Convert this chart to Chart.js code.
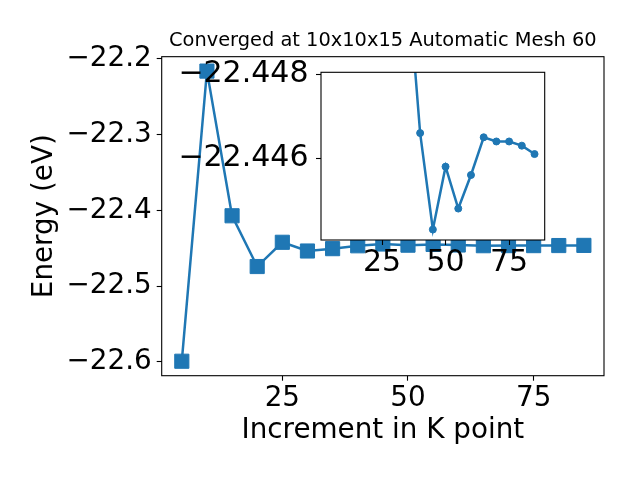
<!DOCTYPE html>
<html>
<head>
<meta charset="utf-8">
<script src="https://cdn.jsdelivr.net/npm/chart.js@4"></script>
<style>
  html, body { margin: 0; padding: 0; background: #fff; }
  #wrap { position: relative; width: 640px; height: 480px; }
  canvas { position: absolute; left: 0; top: 0; }
</style>
</head>
<body>
<div id="wrap">
  <canvas id="main" width="640" height="480"></canvas>
  <canvas id="inset" width="640" height="480"></canvas>
</div>
<script>
// k-point increments and converged energies (eV)
var kPoints = [5, 10, 15, 20, 25, 30, 35, 40, 45, 50, 55, 60, 65, 70, 75, 80, 85];
var energies = [-22.599, -22.216, -22.407, -22.474, -22.442, -22.4535, -22.4504, -22.4466,
                -22.4443, -22.4458, -22.4448, -22.4456, -22.4465, -22.4464, -22.4464, -22.4463, -22.4461];
var insetFrom = 35;   // the zoomed inset only plots from this k point on

var mainXTicks = [25, 50, 75];
var mainYTicks = [-22.6, -22.5, -22.4, -22.3, -22.2];
var insetXTicks = [25, 50, 75];
var insetYTicks = [-22.448, -22.446];

var blue = "#1f77b4";
Chart.defaults.font.family = "'DejaVu Sans'";
Chart.defaults.color = "#000";

function minus(s) {
    return s.replace("-", "\u2212");
}

var points = kPoints.map(function (k, i) { return { x: k, y: energies[i] }; });
var insetPoints = points.filter(function (p) { return p.x >= insetFrom; });

// axes box, and white face for the inset
var frame = {
    id: "frame",
    beforeDraw: function (chart, args, opts) {
        if (!opts.fill) return;
        var a = chart.chartArea, ctx = chart.ctx;
        ctx.save();
        ctx.fillStyle = "#fff";
        ctx.fillRect(a.left, a.top, a.right - a.left, a.bottom - a.top);
        ctx.restore();
    },
    afterDraw: function (chart) {
        var a = chart.chartArea, ctx = chart.ctx;
        ctx.save();
        ctx.strokeStyle = "#000";
        ctx.lineWidth = 1.1;
        ctx.strokeRect(a.left, a.top, a.right - a.left, a.bottom - a.top);
        ctx.restore();
    }
};

new Chart(document.getElementById("main"), {
    type: "line",
    data: {
        datasets: [{
            data: points,
            borderColor: blue,
            backgroundColor: blue,
            borderWidth: 2.5,
            pointStyle: "rect",
            pointRadius: 10,
            pointBorderWidth: 1,
            tension: 0
        }]
    },
    options: {
        responsive: false,
        animation: false,
        layout: { padding: { left: 0, right: 36, top: 0, bottom: 0 } },
        plugins: {
            legend: { display: false },
            tooltip: { enabled: false },
            frame: { fill: false },
            title: {
                display: true,
                text: "Converged at 10x10x15 Automatic Mesh 60",
                fullSize: false,
                color: "#000",
                font: { size: 19.4, weight: "normal" },
                padding: { top: 29.2, bottom: 4.2 }
            }
        },
        scales: {
            x: {
                type: "linear",
                min: 1,
                max: 89,
                afterBuildTicks: function (s) { s.ticks = mainXTicks.map(function (v) { return { value: v }; }); },
                afterFit: function (s) { s.height = 104.3; },
                grid: { drawOnChartArea: false, tickLength: 5, tickColor: "#000", tickWidth: 1.1 },
                border: { display: false },
                ticks: { font: { size: 27.8 }, padding: 1, maxRotation: 0, color: "#000" },
                title: {
                    display: true,
                    text: "Increment in K point",
                    color: "#000",
                    font: { size: 27.8 },
                    padding: { top: 0, bottom: 32.9 }
                }
            },
            y: {
                type: "linear",
                min: -22.6181,
                max: -22.1970,
                afterBuildTicks: function (s) { s.ticks = mainYTicks.map(function (v) { return { value: v }; }); },
                afterFit: function (s) { s.width = 161.7; },
                grid: { drawOnChartArea: false, tickLength: 5, tickColor: "#000", tickWidth: 1.1 },
                border: { display: false },
                ticks: {
                    font: { size: 27.8 }, padding: 5, color: "#000",
                    callback: function (v) { return minus(v.toFixed(1)); }
                },
                title: {
                    display: true,
                    text: "Energy (eV)",
                    color: "#000",
                    font: { size: 27.8 },
                    padding: { top: 28, bottom: 0 }
                }
            }
        }
    },
    plugins: [frame]
});

new Chart(document.getElementById("inset"), {
    type: "line",
    data: {
        datasets: [{
            data: insetPoints,
            borderColor: blue,
            backgroundColor: blue,
            borderWidth: 2.5,
            pointStyle: "circle",
            pointRadius: 3.5,
            pointBorderWidth: 1,
            tension: 0,
            clip: 0
        }]
    },
    options: {
        responsive: false,
        animation: false,
        layout: { padding: { left: 0, right: 95.3, top: 72.3, bottom: 200 } },
        plugins: {
            legend: { display: false },
            tooltip: { enabled: false },
            frame: { fill: true }
        },
        scales: {
            x: {
                type: "linear",
                min: 1,
                max: 89,
                afterBuildTicks: function (s) { s.ticks = insetXTicks.map(function (v) { return { value: v }; }); },
                afterFit: function (s) { s.height = 40; },
                grid: { drawOnChartArea: false, tickLength: 5, tickColor: "#000", tickWidth: 1.1 },
                border: { display: false },
                ticks: { font: { size: 30 }, padding: 0, maxRotation: 0, color: "#000" }
            },
            y: {
                type: "linear",
                reverse: true,
                min: -22.44805,
                max: -22.44405,
                afterBuildTicks: function (s) { s.ticks = insetYTicks.map(function (v) { return { value: v }; }); },
                afterFit: function (s) { s.width = 321; },
                grid: { drawOnChartArea: false, tickLength: 5, tickColor: "#000", tickWidth: 1.1 },
                border: { display: false },
                ticks: {
                    font: { size: 30 }, padding: 7.5, color: "#000",
                    callback: function (v) { return minus(v.toFixed(3)); }
                }
            }
        }
    },
    plugins: [frame]
});
</script>
</body>
</html>
